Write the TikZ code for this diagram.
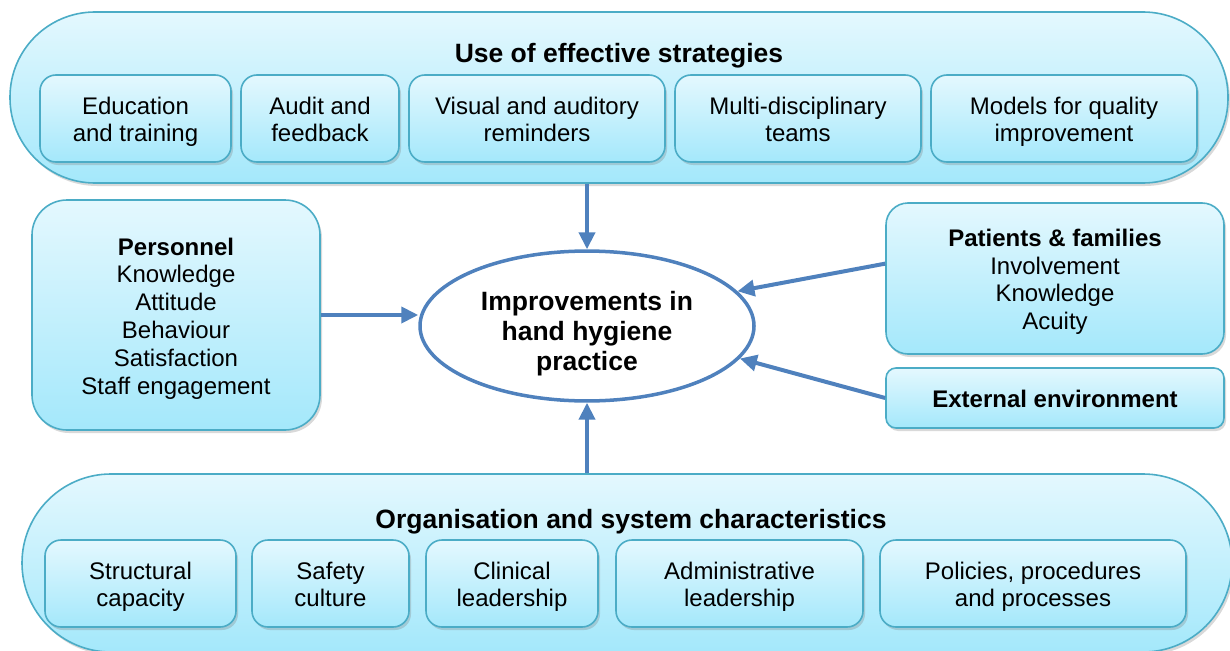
\documentclass[tikz,border=0pt]{standalone}
\usepackage{fontspec}
\setmainfont{Liberation Sans}
\usepackage{tikz}
\usetikzlibrary{positioning,shapes.geometric,arrows.meta,shadows}

\definecolor{bordo}{HTML}{4BACC6}
\definecolor{chiaro}{HTML}{E4F8FE}
\definecolor{scuro}{HTML}{A4E8FB}
\definecolor{freccia}{HTML}{4F81BD}
% spazio sopra la prima riga dei riquadri
\newcommand{\alza}{\rule{0pt}{27.5pt}}

\begin{document}
\begin{tikzpicture}[x=1pt,y=-1pt,
    testo/.style={font=\fontsize{24}{27.8}\selectfont, align=center},
    titolo/.style={font=\fontsize{26.5}{30}\selectfont\bfseries},
    fascia/.style={draw=bordo, line width=1.6pt, top color=chiaro, bottom color=scuro,
        drop shadow={shadow xshift=2pt, shadow yshift=-3pt, opacity=0.3}},
    riquadro/.style={fascia, testo, rounded corners=16pt, minimum height=87pt, inner sep=0pt},
    centro/.style={ellipse, draw=freccia, line width=3.5pt, fill=white, minimum width=334pt,
        minimum height=148pt, inner sep=0pt, align=center,
        font=\fontsize{26.5}{30}\selectfont\bfseries},
    collega/.style={draw=freccia, line width=4pt, -{Triangle[length=17pt,width=16pt]}}]
    \useasboundingbox (0,0) rectangle (1230,650);

    % Fascia superiore con le strategie
    \node[fascia, rounded corners=85pt, minimum width=1218pt, minimum height=171pt] (alto) at (619,97.5) {};
    \node[titolo] (titoloalto) at (619,56) {Use of effective strategies};
    \foreach \i/\xa/\xb/\etichetta in {1/40/231/{Education\\and training}, 2/241/399/{Audit and\\feedback},
        3/409/665/{Visual and auditory\\reminders}, 4/675/921/{Multi-disciplinary\\teams},
        5/931/1197/{Models for quality\\improvement}} {
        \node[riquadro, minimum width={(\xb-\xa)*1pt}] (S\i) at ({(\xa+\xb)/2},118.5) {\alza\etichetta\strut};
    }

    % Fascia inferiore con l'organizzazione
    \node[fascia, rounded corners=89pt, minimum width=1210pt, minimum height=178pt] (basso) at (627,563) {};
    \node[titolo] (titolobasso) at (631,522) {Organisation and system characteristics};
    \foreach \i/\xa/\xb/\etichetta in {1/45/236/{Structural\\capacity}, 2/252/409/{Safety\\culture},
        3/426/598/{Clinical\\leadership}, 4/616/863/{Administrative\\leadership},
        5/880/1186/{Policies, procedures\\and processes}} {
        \node[riquadro, minimum width={(\xb-\xa)*1pt}] (O\i) at ({(\xa+\xb)/2},583.5) {\alza\etichetta\strut};
    }

    % Riquadri laterali
    \node[riquadro, rounded corners=35pt, minimum width=288pt, minimum height=230pt] (pers) at (176,315)
        {\alza\textbf{Personnel}\\Knowledge\\Attitude\\Behaviour\\Satisfaction\\Staff engagement\strut};
    \node[riquadro, rounded corners=22pt, minimum width=338pt, minimum height=151pt] (paz) at (1055,278.5)
        {\alza\textbf{Patients \& families}\\Involvement\\Knowledge\\Acuity\strut};
    \node[riquadro, rounded corners=10pt, minimum width=338pt, minimum height=60pt, font=\fontsize{24}{27.8}\selectfont\bfseries] (amb) at (1055,398)
        {\alza External environment\strut};

    % Ellisse centrale
    \node[centro] (igiene) at (587,326) {\rule{0pt}{37pt}Improvements in\\hand hygiene\\practice\strut};

    % Frecce verso il centro
    \draw[collega] (alto.south -| igiene.north) -- (igiene.north);
    \draw[collega] (basso.north -| igiene.south) -- (igiene.south);
    \draw[collega] (pers.east) -- (pers.east -| igiene.west);
    \draw[collega] (paz.175) -- (igiene.13);
    \draw[collega] (amb.west) -- (igiene.-12);
\end{tikzpicture}
\end{document}
